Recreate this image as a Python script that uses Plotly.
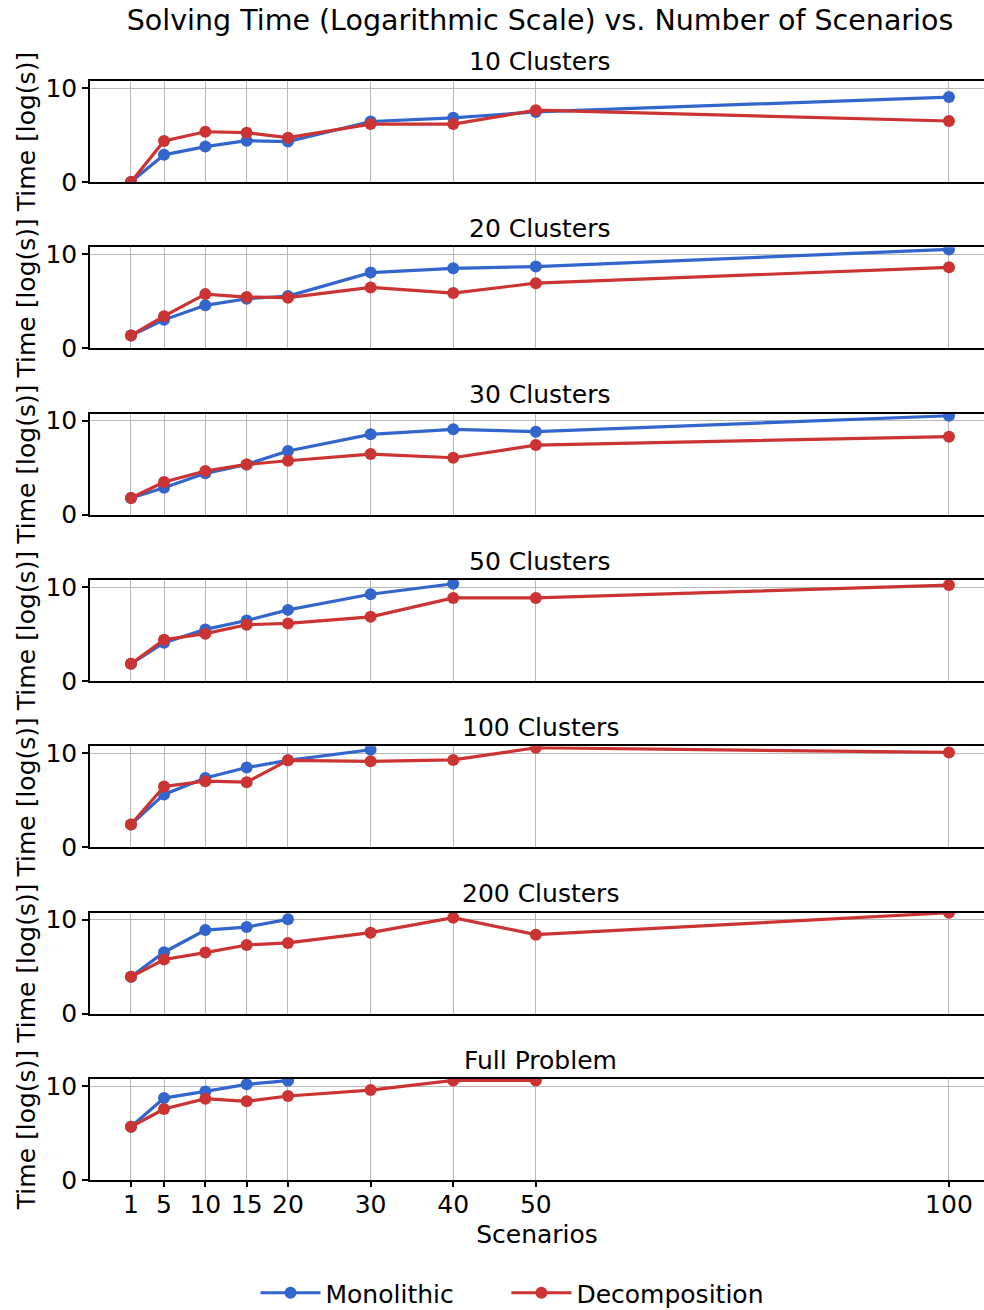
import plotly.graph_objects as go

scenarios = [1, 5, 10, 15, 20, 30, 40, 50, 100]
tick_labels = ["1", "5", "10", "15", "20", "30", "40", "50", "100"]
panel_titles = ["10 Clusters", "20 Clusters", "30 Clusters", "50 Clusters",
                "100 Clusters", "200 Clusters", "Full Problem"]

mono_10 = [0.0, 2.89, 3.77, 4.40, 4.30, 6.44, 6.83, 7.46, 9.04]
deco_10 = [0.0, 4.37, 5.35, 5.25, 4.72, 6.16, 6.16, 7.64, 6.49]
mono_20 = [1.37, 3.03, 4.58, 5.28, 5.56, 8.06, 8.52, 8.70, 10.53]
deco_20 = [1.37, 3.42, 5.77, 5.46, 5.39, 6.48, 5.88, 6.94, 8.62]
mono_30 = [1.77, 2.87, 4.40, 5.35, 6.77, 8.55, 9.08, 8.83, 10.53]
deco_30 = [1.77, 3.48, 4.65, 5.35, 5.74, 6.45, 6.06, 7.41, 8.30]
mono_50 = [1.83, 4.08, 5.49, 6.44, 7.57, 9.23, 10.35, None, None]
deco_50 = [1.83, 4.40, 5.04, 5.99, 6.13, 6.83, 8.84, 8.84, 10.21]
mono_100 = [2.43, 5.63, 7.39, 8.49, 9.26, 10.39, None, None, None]
deco_100 = [2.43, 6.48, 7.04, 6.94, 9.26, 9.15, 9.30, 10.60, 10.10]
mono_200 = [3.92, 6.54, 8.90, 9.22, 10.04, None, None, None, None]
deco_200 = [3.92, 5.76, 6.50, 7.31, 7.53, 8.62, 10.21, 8.41, 10.74]
mono_full = [5.67, 8.72, 9.43, 10.18, 10.57, None, None, None, None]
deco_full = [5.67, 7.55, 8.65, 8.37, 8.94, 9.57, 10.60, 10.60, None]

mono_all = [mono_10, mono_20, mono_30, mono_50, mono_100, mono_200, mono_full]
deco_all = [deco_10, deco_20, deco_30, deco_50, deco_100, deco_200, deco_full]

BLUE = "#3366CC"
RED = "#CC3333"
FONT = "DejaVu Sans"
FS = 25
W, H = 984, 1310
ML, MR, MT, MB = 90, 0, 81, 130
PH = H - MT - MB
PANEL_H = 101
PITCH = (PH - PANEL_H) / 6.0
NB = "\u00a0"

fig = go.Figure()
layout = {}
annotations = []
for i in range(7):
    n = i + 1
    xa = "x" if n == 1 else f"x{n}"
    ya = "y" if n == 1 else f"y{n}"
    top = 1 - (PITCH * i) / PH
    bot = 1 - (PITCH * i + PANEL_H) / PH
    fig.add_trace(go.Scatter(x=scenarios, y=mono_all[i], mode="lines+markers",
                             name="Monolithic" + NB * 6, legendgroup="m", showlegend=(i == 0),
                             line=dict(color=BLUE, width=3.2), marker=dict(size=12, color=BLUE),
                             xaxis=xa, yaxis=ya, connectgaps=False))
    fig.add_trace(go.Scatter(x=scenarios, y=deco_all[i], mode="lines+markers",
                             name="Decomposition", legendgroup="d", showlegend=(i == 0),
                             line=dict(color=RED, width=3.2), marker=dict(size=12, color=RED),
                             xaxis=xa, yaxis=ya, connectgaps=False))
    last = (i == 6)
    layout["xaxis" if n == 1 else f"xaxis{n}"] = dict(
        domain=[0, 1], anchor=ya, range=[-3.96, 104.24],
        tickmode="array", tickvals=scenarios, ticktext=tick_labels,
        showticklabels=last, ticks="outside" if last else "", ticklen=5, tickwidth=1.5,
        tickcolor="black", ticklabelstandoff=-4,
        showgrid=True, gridcolor="#b8b8b8", gridwidth=1.3,
        showline=True, linecolor="black", linewidth=1.5, mirror=True,
        zeroline=False, automargin=False,
        tickfont=dict(size=FS, family=FONT, color="black"),
        title=dict(text="Scenarios", font=dict(size=FS, family=FONT, color="black"), standoff=8) if last else None,
        matches=None if n == 1 else "x",
    )
    layout["yaxis" if n == 1 else f"yaxis{n}"] = dict(
        domain=[bot, top], anchor=xa, range=[0, 10.75],
        tickvals=[0, 10], ticktext=["0", "10"], ticks="outside", ticklen=6, tickwidth=1.5,
        tickcolor="black",
        showgrid=True, gridcolor="#b8b8b8", gridwidth=1.3,
        showline=True, linecolor="black", linewidth=1.5, mirror=False,
        zeroline=False, automargin=False,
        tickfont=dict(size=FS, family=FONT, color="black"),
        title=dict(text="Time [log(s)]", font=dict(size=FS, family=FONT, color="black"), standoff=3),
    )
    annotations.append(dict(text=panel_titles[i], xref="paper", yref="paper",
                            x=(540 - ML) / (W - ML - MR), y=top + 19 / PH,
                            xanchor="center", yanchor="middle", showarrow=False,
                            font=dict(size=FS, family=FONT, color="black")))

fig.update_layout(**layout)
fig.update_layout(
    width=W, height=H,
    margin=dict(l=ML, r=MR, t=MT, b=MB, autoexpand=False),
    paper_bgcolor="white", plot_bgcolor="white",
    font=dict(family=FONT, size=FS, color="black"),
    title=dict(text="Solving Time (Logarithmic Scale) vs. Number of Scenarios",
               x=540 / W, xanchor="center", y=1 - 20 / H, yanchor="middle",
               font=dict(size=28.5, family=FONT, color="black")),
    annotations=annotations,
    legend=dict(orientation="h", x=(512 - ML) / (W - ML - MR), xanchor="center",
                yref="container", y=1 - 1293 / H, yanchor="middle",
                font=dict(size=FS, family=FONT, color="black"),
                itemwidth=60, bgcolor="rgba(0,0,0,0)"),
    showlegend=True,
)

fig.write_html("out.html")
